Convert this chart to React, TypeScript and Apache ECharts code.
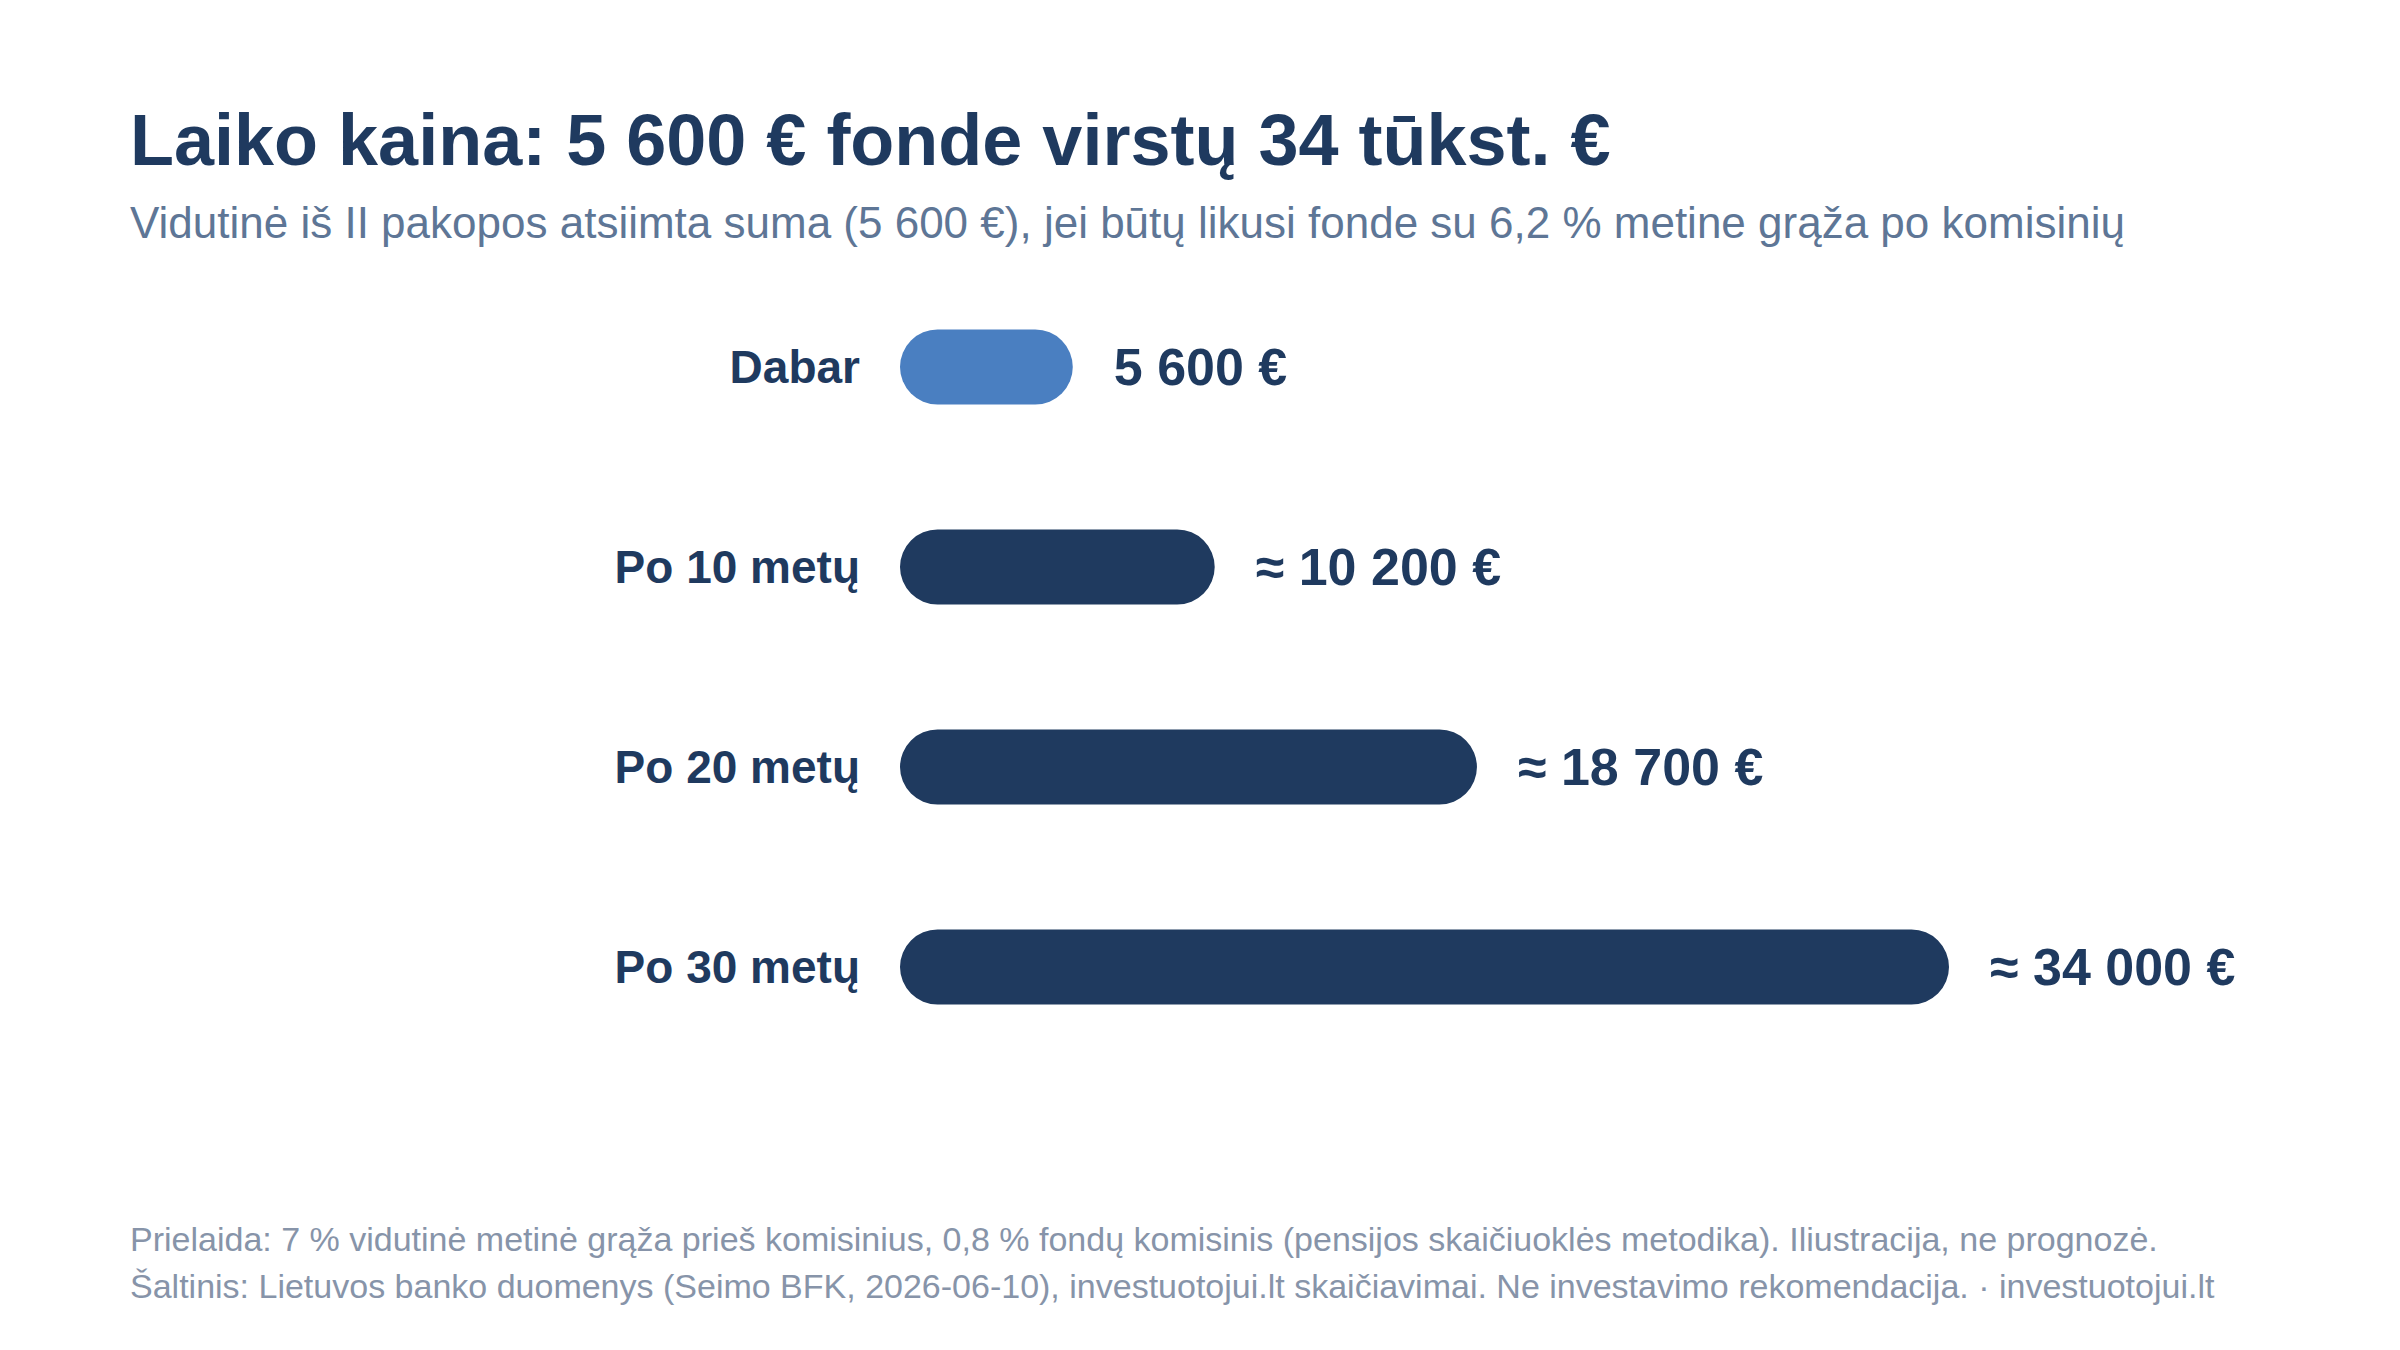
import { useEffect, useRef } from 'react';
import * as echarts from 'echarts';

const categories = ['Dabar', 'Po 10 metų', 'Po 20 metų', 'Po 30 metų'];
const values = [5600, 10200, 18700, 34000];
const valueLabels = ['5 600 €', '≈ 10 200 €', '≈ 18 700 €', '≈ 34 000 €'];
const barColors = ['#4a7fc1', '#1f3a5f', '#1f3a5f', '#1f3a5f'];

const titleText = 'Laiko kaina: 5 600 € fonde virstų 34 tūkst. €';
const subtitleText = 'Vidutinė iš II pakopos atsiimta suma (5 600 €), jei būtų likusi fonde su 6,2 % metine grąža po komisinių';
const footerLines = [
  'Prielaida: 7 % vidutinė metinė grąža prieš komisinius, 0,8 % fondų komisinis (pensijos skaičiuoklės metodika). Iliustracija, ne prognozė.',
  'Šaltinis: Lietuvos banko duomenys (Seimo BFK, 2026-06-10), investuotojui.lt skaičiavimai. Ne investavimo rekomendacija. · investuotojui.lt',
];

const FONT = '"Liberation Sans", Arial, Helvetica, sans-serif';
const DARK = '#1f3a5f';

export default function App() {
  const chartRef = useRef<HTMLDivElement | null>(null);

  useEffect(() => {
    if (!chartRef.current) {
      return;
    }
    const chart = echarts.init(chartRef.current, null, { renderer: 'svg' });
    chart.setOption({
      animation: false,
      backgroundColor: '#ffffff',
      textStyle: { fontFamily: FONT },
      title: [
        {
          left: 130,
          top: 104,
          padding: 0,
          text: titleText,
          textStyle: { fontFamily: FONT, fontSize: 72, fontWeight: 'bold', color: DARK },
        },
        {
          left: 130,
          top: 200,
          padding: 0,
          text: subtitleText,
          textStyle: { fontFamily: FONT, fontSize: 44, fontWeight: 'normal', color: '#5e7696' },
        },
        ...footerLines.map((line, i) => ({
          left: 130,
          top: 1222 + i * 47,
          padding: 0,
          text: line,
          textStyle: { fontFamily: FONT, fontSize: 34, fontWeight: 'normal', color: '#8794a9' },
        })),
      ],
      grid: {
        left: 900,
        top: 267,
        width: 1049,
        height: 800,
        containLabel: false,
      },
      xAxis: {
        type: 'value',
        min: 0,
        max: 34000,
        show: false,
      },
      yAxis: {
        type: 'category',
        data: categories,
        inverse: true,
        axisLine: { show: false },
        axisTick: { show: false },
        splitLine: { show: false },
        axisLabel: {
          margin: 40,
          fontFamily: FONT,
          fontSize: 46,
          fontWeight: 'bold',
          color: DARK,
        },
      },
      series: [
        {
          type: 'bar',
          barWidth: 75,
          data: values.map((v, i) => ({
            value: v,
            itemStyle: { color: barColors[i], borderRadius: 37.5 },
          })),
          label: {
            show: true,
            position: 'right',
            distance: 41,
            formatter: (p: any) => valueLabels[p.dataIndex],
            fontFamily: FONT,
            fontSize: 52,
            fontWeight: 'bold',
            color: DARK,
          },
        },
      ],
    });
    return () => {
      chart.dispose();
    };
  }, []);

  return (
    <div
      ref={chartRef}
      style={{ position: 'fixed', left: 0, top: 0, width: 2400, height: 1350, background: '#ffffff' }}
    />
  );
}
